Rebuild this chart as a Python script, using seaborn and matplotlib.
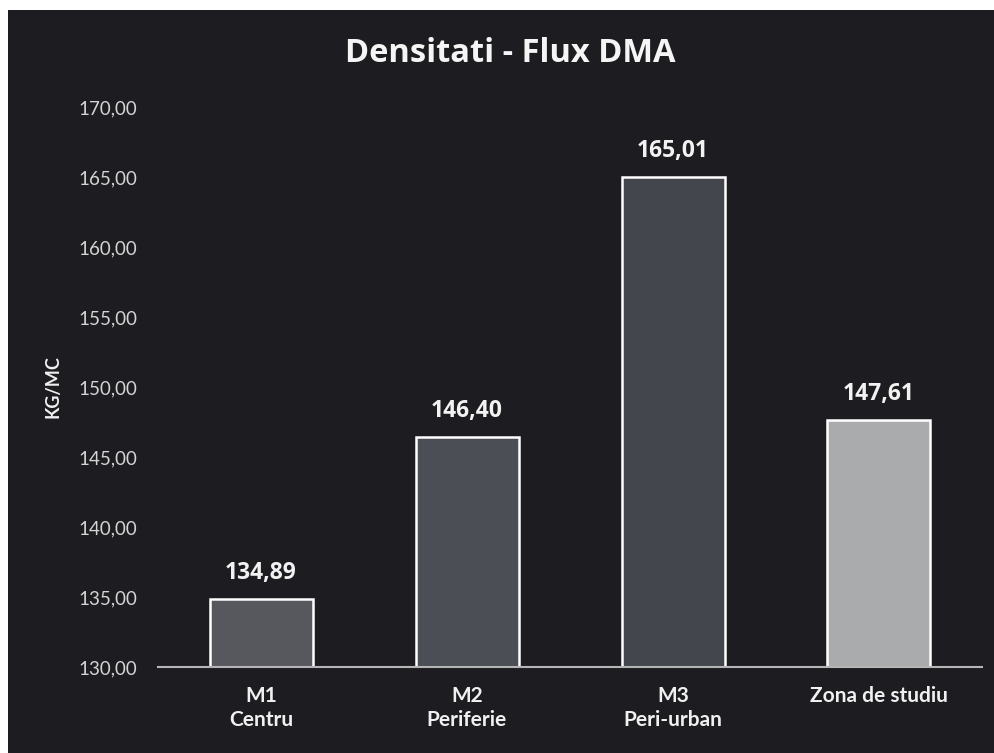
import matplotlib
matplotlib.use("Agg")
import matplotlib.pyplot as plt
import seaborn as sns
import pandas as pd
from matplotlib.patches import Rectangle

# data
categories = ["M1\nCentru", "M2\nPeriferie", "M3\nPeri-urban", "Zona de studiu"]
values = [134.89, 146.40, 165.01, 147.61]
bar_colors = ["#55585f", "#4a4d55", "#42454d", "#a9abac"]
yticks = [130, 135, 140, 145, 150, 155, 160, 165, 170]

df = pd.DataFrame({"zona": categories, "densitate": values})

sns.set_theme(style="dark")
plt.rcParams["font.family"] = ["Lato", "DejaVu Sans"]

bg = "#1d1d21"
fig = plt.figure(figsize=(9.94, 7.53), dpi=100, facecolor="white")
# dark scanned panel, white margin top/left
fig.patches.append(Rectangle((8 / 994, 0), 1, 1 - 10 / 753, transform=fig.transFigure,
                             facecolor=bg, edgecolor="none", zorder=-5))
ax = fig.add_axes([158 / 994, 1 - 667 / 753, (982 - 158) / 994, (667 - 107) / 753])
ax.set_facecolor(bg)

sns.barplot(data=df, x="zona", y="densitate", hue="zona",
            palette=dict(zip(categories, bar_colors)), legend=False,
            width=0.5, edgecolor="white", linewidth=1.8, ax=ax)

ax.set_ylim(130, 170)
ax.set_yticks(yticks)
ax.set_yticklabels([f"{t:.2f}".replace(".", ",") for t in yticks],
                   color="#d4d4d4", fontsize=13.5)
ax.tick_params(axis="y", length=0, pad=15)
ax.tick_params(axis="x", length=0, pad=14)
for lbl in ax.get_xticklabels():
    lbl.set_color("#f0f0f0")
    lbl.set_fontweight("bold")
    lbl.set_fontsize(15)

for i, v in enumerate(values):
    ax.text(i, v + 1.0, f"{v:.2f}".replace(".", ","), ha="center", va="bottom",
            color="#f2f2f2", fontsize=16.5, fontweight="bold", family="Open Sans")

for s in ["top", "right", "left"]:
    ax.spines[s].set_visible(False)
ax.spines["bottom"].set_color("#b5b5b5")
ax.spines["bottom"].set_linewidth(1.5)
ax.grid(False)

ax.set_xlabel("")
ax.set_ylabel("KG/MC", color="#f0f0f0", fontsize=13, fontweight="bold", labelpad=12)
fig.text(510 / 994, 1 - 54 / 753, "Densitati - Flux DMA", ha="center", va="center",
         color="#f5f5f5", fontsize=23.5, fontweight="bold", family="Open Sans")

fig.savefig("out.png", dpi=100, facecolor=fig.get_facecolor())
